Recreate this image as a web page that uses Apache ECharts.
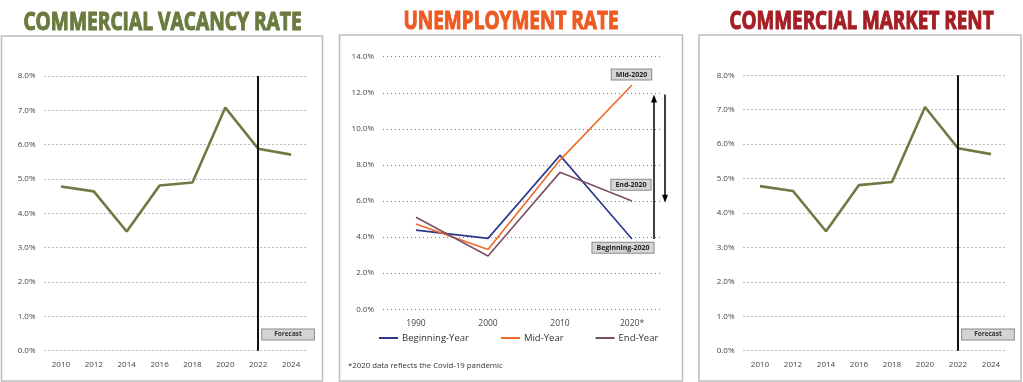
<!DOCTYPE html>
<html><head><meta charset="utf-8">
<script src="https://cdn.jsdelivr.net/npm/echarts@6/dist/echarts.min.js"></script>
<style>html,body{margin:0;padding:0;background:#fff}#c{width:1023px;height:382px}</style>
</head><body><div id="c"></div>
<script>
// ---- data ----
const vacancyYears = ['2010','2012','2014','2016','2018','2020','2022','2024'];
const vacancyRate  = [4.78, 4.64, 3.47, 4.81, 4.90, 7.08, 5.88, 5.71];
const rentYears    = ['2010','2012','2014','2016','2018','2020','2022','2024'];
const rentValues   = [4.78, 4.64, 3.47, 4.81, 4.90, 7.08, 5.88, 5.71];
const forecastYear = '2022';
const unempYears   = ['1990','2000','2010','2020*'];
const beginningYear = [4.39, 3.93, 8.53, 3.90];
const midYear       = [4.73, 3.32, 8.27, 12.43];
const endYear       = [5.10, 2.95, 7.59, 6.00];
const pctAxisLeft  = {min: 0, max: 8, interval: 1};
const pctAxisMid   = {min: 0, max: 14, interval: 2};
const titles = ['COMMERCIAL VACANCY RATE', 'UNEMPLOYMENT RATE', 'COMMERCIAL MARKET RENT'];

const FONT = 'Open Sans';
const olive = '#6d7a44';
const blue = '#2b3a8a', orange = '#ee6a25', mauve = '#7c5063';
const pctFmt = v => v.toFixed(1) + '%';
const split = {show: true, lineStyle: {type: [1, 3], color: '#7a7a7a', width: 1}};

function yAx(grid, r, showLabel) {
  return {type: 'value', gridIndex: grid, min: r.min, max: r.max, interval: r.interval,
    axisLine: {show: false}, axisTick: {show: false},
    axisLabel: {show: showLabel, formatter: pctFmt, fontFamily: FONT, fontSize: 8, color: '#444', margin: 9},
    splitLine: showLabel ? split : {show: false}};
}
function xAx(grid, cats, show, fs) {
  return {type: 'category', gridIndex: grid, data: cats, boundaryGap: true,
    axisLine: {show: false}, axisTick: {show: false}, splitLine: {show: false},
    axisLabel: {show: show, fontFamily: FONT, fontSize: fs, color: '#444', margin: 10}};
}
function forecastSeries(grid, cats, vals) {
  return {type: 'line', xAxisIndex: grid, yAxisIndex: grid, data: vals, symbol: 'none',
    lineStyle: {color: olive, width: 2.6}, itemStyle: {color: olive}, z: 3,
    markLine: {silent: true, symbol: 'none', label: {show: false},
      lineStyle: {color: '#111', width: 2, type: 'solid'},
      data: [[{coord: [forecastYear, 0]}, {coord: [forecastYear, 8]}]]},
    markPoint: {silent: true, symbol: 'rect', symbolSize: 0,
      data: [{coord: [cats[cats.length - 1], 0.47]}],
      label: {show: true, formatter: 'Forecast', offset: [-3, 0], fontFamily: FONT, fontSize: 6.5,
        fontWeight: 'bold', color: '#333', backgroundColor: '#d4d4d4', borderColor: '#8a8a8a',
        borderWidth: 1, padding: [2, 12, 1, 12]}}};
}

const chart = echarts.init(document.getElementById('c'), null, {renderer: 'canvas'});
const option = {
  backgroundColor: '#fff',
  animation: false,
  title: [
    {text: '*2020 data reflects the Covid-19 pandemic', left: 348, top: 362, padding: 0,
      textStyle: {fontFamily: FONT, fontSize: 7.8, fontWeight: 'normal', color: '#333'}}
  ],
  legend: {
    data: ['Beginning-Year', 'Mid-Year', 'End-Year'], left: 379, top: 333, padding: 0,
    icon: 'rect', itemWidth: 19, itemHeight: 2, itemGap: 32,
    textStyle: {fontFamily: FONT, fontSize: 9.5, color: '#333', padding: [0, 0, 0, -1]}
  },
  grid: [
    {left: 44.5, top: 76, width: 263, height: 274.7},
    {left: 383, top: 56.7, width: 277, height: 252.6},
    {left: 380, top: 56.7, width: 288, height: 252.6},
    {left: 743.5, top: 75.3, width: 264, height: 275.4}
  ],
  xAxis: [
    xAx(0, vacancyYears, true, 8),
    xAx(1, unempYears, false, 8.5),
    xAx(2, unempYears, true, 8.5),
    xAx(3, rentYears, true, 8)
  ],
  yAxis: [
    yAx(0, pctAxisLeft, true),
    yAx(1, pctAxisMid, true),
    yAx(2, pctAxisMid, false),
    yAx(3, pctAxisLeft, true)
  ],
  series: [
    forecastSeries(0, vacancyYears, vacancyRate),
    {type: 'line', name: '_dummy', xAxisIndex: 1, yAxisIndex: 1, data: [], silent: true},
    {type: 'line', name: 'Beginning-Year', xAxisIndex: 2, yAxisIndex: 2, data: beginningYear, symbol: 'none',
      lineStyle: {color: blue, width: 1.6}, itemStyle: {color: blue}},
    {type: 'line', name: 'Mid-Year', xAxisIndex: 2, yAxisIndex: 2, data: midYear, symbol: 'none',
      lineStyle: {color: orange, width: 1.6}, itemStyle: {color: orange}},
    {type: 'line', name: 'End-Year', xAxisIndex: 2, yAxisIndex: 2, data: endYear, symbol: 'none',
      lineStyle: {color: mauve, width: 1.6}, itemStyle: {color: mauve}},
    forecastSeries(3, rentYears, rentValues)
  ]
};
chart.setOption(option);

// condensed headline titles (scaled horizontally to the reference width)
const mctx = document.createElement('canvas').getContext('2d');
const TFS = 25;
mctx.font = 'bold ' + TFS + 'px "Open Sans"';
function headline(text, cx, cy, targetW, color) {
  const w = (mctx.measureText(text).width || targetW) + 1;
  return {type: 'text', x: cx, y: cy, scaleX: targetW / w, scaleY: 1, silent: true,
    style: {text: text, fontFamily: FONT, fontWeight: 'bold', fontSize: TFS, fill: color,
      stroke: color, lineWidth: 1.1, align: 'center', verticalAlign: 'middle'}};
}

// Annotation boxes anchored to 2020 values
function px(val) { return chart.convertToPixel({xAxisIndex: 2, yAxisIndex: 2}, [unempYears[3], val]); }
const pMid = px(midYear[3]), pEnd = px(endYear[3]), pBeg = px(beginningYear[3]);
function box(text, cx, cy) {
  return {type: 'text', x: cx, y: cy, z: 20, style: {text: text, fontFamily: FONT, fontSize: 7, fontWeight: 'bold',
    fill: '#222', align: 'center', verticalAlign: 'middle', backgroundColor: '#d4d4d4', borderColor: '#8a8a8a',
    borderWidth: 1, padding: [2, 4, 1, 4]}};
}
const topY = px(11.9)[1];
const upX = pBeg[0] + 22, downX = pBeg[0] + 33;
const upBottom = px(3.9)[1], downTip = px(5.9)[1];
const graphics = [
  headline(titles[0], 162.5, 22.5, 279, '#6b7a3e'),
  headline(titles[1], 511, 22, 216, '#ef5a23'),
  headline(titles[2], 861.5, 21.5, 265, '#a51e25'),
  {type: 'rect', shape: {x: 1.5, y: 36, width: 321, height: 345}, style: {fill: 'none', stroke: '#bdbdbd', lineWidth: 1.5}, silent: true},
  {type: 'rect', shape: {x: 339.5, y: 35, width: 343, height: 346}, style: {fill: 'none', stroke: '#bdbdbd', lineWidth: 1.5}, silent: true},
  {type: 'rect', shape: {x: 699, y: 35, width: 322, height: 346}, style: {fill: 'none', stroke: '#bdbdbd', lineWidth: 1.5}, silent: true},
  box('Mid-2020', pMid[0] - 0.5, pMid[1] - 10.5),
  box('End-2020', pEnd[0] - 1, pEnd[1] - 16.3),
  box('Beginning-2020', pBeg[0] - 9, pBeg[1] + 8.7),
  {type: 'line', shape: {x1: upX, y1: upBottom, x2: upX, y2: topY + 6}, style: {stroke: '#000', lineWidth: 1.5}},
  {type: 'polygon', shape: {points: [[upX, topY], [upX - 3, topY + 8], [upX + 3, topY + 8]]}, style: {fill: '#000'}},
  {type: 'line', shape: {x1: downX, y1: topY, x2: downX, y2: downTip - 6}, style: {stroke: '#000', lineWidth: 1.5}},
  {type: 'polygon', shape: {points: [[downX, downTip], [downX - 3, downTip - 8], [downX + 3, downTip - 8]]}, style: {fill: '#000'}}
];
chart.setOption({graphic: graphics});
</script></body></html>
